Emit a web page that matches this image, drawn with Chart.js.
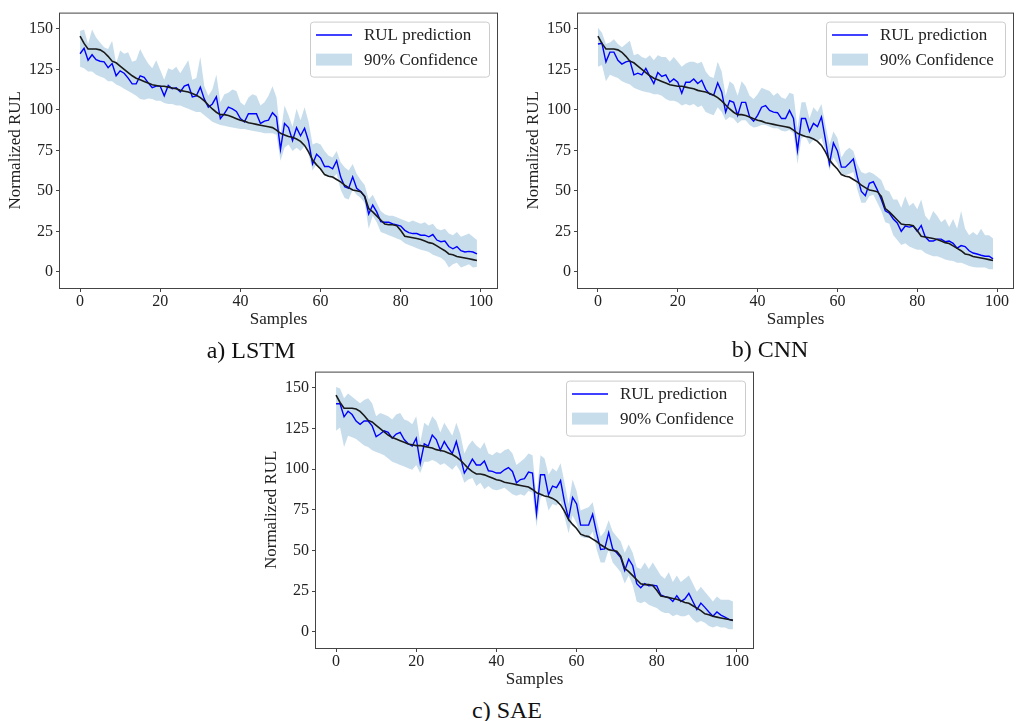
<!DOCTYPE html>
<html lang="en">
  <head>
    <meta charset="UTF-8" />
    <title>RUL prediction with 90% confidence</title>
    <script src="https://cdn.jsdelivr.net/npm/chart.js@4.4.1/dist/chart.umd.min.js"></script>
    <style>
      body {
        margin: 0;
        background: #fff;
        width: 1020px;
        height: 721px;
        position: relative;
        overflow: hidden;
        font-family: "Liberation Serif", "Times New Roman", serif;
      }
      canvas {
        position: absolute;
      }
      .caption {
        position: absolute;
        width: 200px;
        text-align: center;
        font-size: 24px;
        line-height: 24px;
        color: #111;
      }
    </style>
  </head>
  <body>
    <canvas id="lstm" width="510" height="330" style="left:0px;top:0px"></canvas>
    <canvas id="cnn" width="502" height="330" style="left:518px;top:0px"></canvas>
    <canvas id="sae" width="507" height="331" style="left:256px;top:359px"></canvas>

    <div class="caption" style="left:151px;top:338px">a) LSTM</div>
    <div class="caption" style="left:670px;top:337px">b) CNN</div>
    <div class="caption" style="left:407px;top:698px">c) SAE</div>

    <script>
      // sample index on the x axis
      const samples = Array.from({ length: 100 }, (_, i) => i);
      const xTicks = [0, 20, 40, 60, 80, 100];
      const yTicks = [0, 25, 50, 75, 100, 125, 150];

      const predLabel = "RUL prediction";
      const bandLabel = "90% Confidence";

      // true RUL (black line, same in all three plots)
      const trueRUL = [
        145.5, 141, 137.5, 137.5, 137.5, 137, 135.5, 133, 130, 129,
        127, 125, 123, 121, 119.5, 118.5, 117.5, 116.5, 115.5, 115,
        114.5, 114.5, 114, 113.5, 113, 112, 111.5, 111, 110, 109,
        107.5, 105.5, 103, 100.5, 98.5, 97, 97, 96.5, 95.5, 94.5,
        93.5, 93, 92, 91.5, 91, 90.5, 90, 89.5, 89, 87.5,
        85.5, 84.5, 83.5, 83, 82, 80.5, 78, 74, 69, 66,
        63.5, 60, 59, 58.5, 57, 55.5, 53.5, 52, 50.5, 50,
        49.5, 46.5, 39, 37, 34.5, 32, 29.5, 29, 29, 28.5,
        25.5, 22, 21.5, 21, 20.5, 20, 19, 18, 17.5, 16,
        14.5, 13, 11, 10.5, 9.5, 9, 8.5, 8, 7.5, 7
      ];

      // ---------------- a) LSTM ----------------
      const lstmPred = [
        134.6, 138, 130.6, 134, 131, 130, 129.6, 126, 128.6, 121,
        124, 122.6, 119.6, 116, 116, 121, 120, 116.6, 113.6, 114.6,
        114.6, 108.6, 115, 113, 113.6, 111, 114.6, 115.6, 108, 108.6,
        114, 106.6, 101.6, 103.6, 108, 94.6, 97.6, 101.6, 100.6, 99,
        94.6, 92.6, 97.6, 97.6, 97.6, 91.6, 93, 93.6, 98.2, 95.6,
        75.6, 91.6, 89, 81, 89, 84, 88.6, 80.6, 66.6, 72.6,
        70.2, 65, 65, 63.6, 68.6, 58.6, 52.6, 51.6, 58.6, 51.6,
        49.6, 46.6, 35.6, 41.2, 37, 31, 30.6, 30.6, 29.6, 29,
        28.2, 25.6, 24.2, 23.6, 23.6, 22.6, 22.6, 21.6, 23, 19.6,
        18.6, 19, 15.6, 14.2, 15.6, 13, 12.2, 12.6, 12.2, 11
      ];
      const lstmUpper = [
        148.6, 149.6, 140.6, 149.6, 144.6, 141.6, 138.6, 137.6, 142.6, 128.6,
        136.6, 134.6, 135.6, 129.6, 130.6, 137.6, 132.6, 128.6, 125.6, 130.6,
        124.6, 118.6, 125.6, 124.6, 126.6, 122.6, 126.6, 130.6, 118.6, 119.6,
        132.6, 114.6, 108.6, 112.6, 121.6, 104.6, 109.6, 110.6, 112.6, 111.6,
        104.6, 102.6, 107.6, 109.6, 108.6, 102.6, 104.6, 108.6, 114.6, 107.6,
        84.6, 102.6, 96.6, 89.6, 100.6, 93.6, 101.6, 92.6, 78.6, 79.6,
        78.6, 74.6, 71.6, 70.6, 74.6, 67.6, 64.6, 62.6, 66.6, 60.6,
        56.6, 53.6, 44.6, 47.6, 42.6, 37.6, 35.6, 34.6, 34.6, 33.6,
        32.6, 31.6, 30.6, 31.6, 30.6, 29.6, 30.6, 28.6, 29.6, 26.6,
        25.6, 26.6, 23.6, 22.6, 24.6, 21.6, 22.6, 23.6, 21.6, 19.6
      ];
      const lstmLower = [
        126.6, 125.6, 123.6, 123.6, 121.6, 120.6, 119.6, 117.6, 117.6, 115.6,
        114.6, 113, 111.6, 110.2, 108.6, 106.6, 106.2, 107, 106.6, 105.6,
        105.6, 104.2, 103.6, 103.6, 102.6, 102.6, 101.6, 100.6, 99.6, 98.6,
        98.6, 96.6, 94.6, 92.6, 91.6, 90.6, 90.2, 89.6, 89, 88.6,
        88.2, 88.2, 87.6, 87, 86.6, 86.2, 85.6, 85.6, 85.6, 84.6,
        68.6, 76.6, 78.6, 74.6, 76.6, 74.6, 77.6, 72.6, 62.6, 66.6,
        62.6, 59.6, 58.6, 57.6, 60.6, 50.6, 45.6, 44.6, 50.6, 47.6,
        45.6, 42.6, 26.6, 34.6, 30.6, 24.6, 23.6, 22.6, 21.6, 20.6,
        19.6, 17.6, 16.6, 15.6, 14.6, 13.6, 13, 12.2, 10.6, 9.6,
        8.6, 6.6, 2.6, 4.6, 5.6, 2.6, 3.6, 4.6, 2.6, 3
      ];

      // ---------------- b) CNN ----------------
      const cnnPred = [
        140.6, 141, 129.6, 135.6, 135.6, 130.6, 128.2, 129.6, 130.2, 121.6,
        122.6, 121.6, 125.6, 120.6, 116.2, 123, 120.6, 121.6, 117, 119,
        117, 110.2, 117, 117, 119, 116.2, 118.2, 112.6, 109.6, 109,
        116.6, 111, 98.6, 105.6, 104.6, 96.6, 104.6, 104.6, 95.6, 93,
        96.6, 101.6, 102.6, 99.6, 98.6, 98.2, 94.6, 94.6, 99.6, 94.6,
        75, 94.6, 94.6, 86.6, 91.6, 89.6, 95.6, 81.6, 66.6, 79.6,
        74.6, 64.6, 64.6, 67, 69.6, 58.6, 49.6, 47, 54.6, 55.6,
        50.6, 44.6, 37.6, 36.2, 32.6, 30.2, 25, 28.2, 27.6, 28.2,
        25, 28.6, 21.6, 19, 19, 20.2, 20.2, 18.6, 19, 17.6,
        14.6, 16.2, 15.6, 13, 11.6, 11, 10.2, 9.6, 9.6, 8
      ];
      const cnnUpper = [
        150.6, 147.6, 140.6, 141.6, 143.6, 140.6, 138.6, 140.6, 142.6, 133.6,
        134.6, 132.6, 131.6, 133.6, 130.6, 133.6, 132.6, 132.6, 129.6, 132.6,
        129.6, 126.6, 128.6, 129.6, 129.6, 128.6, 129.6, 123.6, 120.6, 119.6,
        129.6, 123.6, 108.6, 117.6, 115.6, 108.6, 117.6, 114.6, 108.6, 106.6,
        109.6, 113.6, 112.6, 111.6, 108.6, 110.6, 107.6, 106.6, 110.6, 109.6,
        88.6, 104.6, 104.6, 94.6, 101.6, 98.6, 103.6, 90.6, 78.6, 86.6,
        82.6, 70.6, 74.6, 76.6, 74.6, 66.6, 61.6, 60.6, 61.6, 60.6,
        58.6, 56.6, 50.6, 49.6, 44.6, 44.6, 39.6, 46.6, 40.6, 42.6,
        38.6, 44.6, 34.6, 31.6, 37.6, 34.6, 30.6, 32.6, 27.6, 32.6,
        26.6, 37.6, 26.6, 22.6, 24.6, 22.6, 26.6, 22.6, 22.6, 20.6
      ];
      const cnnLower = [
        126.6, 127.6, 117.6, 121.6, 120.6, 119.6, 117.6, 116.6, 115.6, 113.6,
        112.6, 111.6, 111, 110.6, 109.6, 109.6, 108.6, 106.6, 105.6, 105.6,
        104.6, 102.6, 103.6, 102.6, 103.6, 101.6, 102.6, 98.6, 97.6, 96.6,
        101.6, 98.6, 93.6, 95.6, 94.6, 91.6, 93.6, 93.6, 90.6, 89,
        89.6, 90.6, 90.6, 89.6, 88.6, 88.6, 87, 86.6, 87.6, 85.6,
        66.6, 82.6, 83.6, 78.6, 81.6, 80.6, 82.6, 74.6, 62.6, 70.6,
        66.6, 60.6, 59.6, 60.6, 61.6, 50.6, 42.6, 42.6, 46.6, 47.6,
        42.6, 37.6, 30.6, 29.6, 22.6, 19.6, 16.6, 17.6, 15.6, 14.6,
        13.6, 13.6, 11.6, 10.6, 9.6, 9.6, 8.6, 7.6, 7, 6.6,
        5.6, 5.6, 4.6, 3.6, 3, 2.6, 2.6, 2.6, 1.6, 1.6
      ];

      // ---------------- c) SAE ----------------
      const saePred = [
        140.2, 140.2, 132.2, 135.6, 133.6, 129.6, 127.6, 129.6, 129.6, 126.6,
        120, 121.6, 123.6, 122.6, 119, 121.6, 122.6, 118.2, 115.6, 114.2,
        119, 103.6, 115.6, 114.2, 121, 118.2, 111.6, 117, 113, 109.6,
        117, 107.6, 97.6, 101.6, 106.2, 102.6, 102.6, 105, 99, 98.6,
        97.6, 97.6, 99.6, 101, 98.6, 91.6, 93.6, 94.2, 98.2, 97.6,
        72.6, 96.6, 96.6, 84.2, 89.6, 88.6, 93, 79.6, 69.6, 82.6,
        78.6, 65.6, 65.6, 65.6, 72.2, 60.6, 50.6, 51, 61, 51,
        48.6, 45.6, 37.6, 44.6, 40.6, 29.6, 27, 29.6, 28.2, 28.6,
        28.2, 22.6, 21.6, 21, 18.6, 22.2, 18.6, 20.2, 23.6, 18.6,
        13.6, 17.6, 15, 12.2, 9.6, 12.2, 10.2, 9, 7.6, 7
      ];
      const saeUpper = [
        150.6, 149.6, 143.6, 146.6, 144.6, 142.6, 140.6, 142.6, 143.6, 140.6,
        132.6, 134.6, 133.6, 132.6, 130.6, 133.6, 134.6, 130.6, 129.6, 127.6,
        132.6, 116.6, 128.6, 126.6, 132.6, 129.6, 122.6, 128.6, 124.6, 120.6,
        128.6, 121.6, 109.6, 114.6, 117.6, 114.6, 112.6, 116.6, 109.6, 108.6,
        110.6, 109.6, 111.6, 112.6, 109.6, 102.6, 104.6, 106.6, 109.6, 108.6,
        82.6, 108.6, 106.6, 96.6, 100.6, 98.6, 103.6, 91.6, 78.6, 93.6,
        86.6, 74.6, 75.6, 76.6, 79.6, 68.6, 58.6, 61.6, 68.6, 61.6,
        58.6, 55.6, 48.6, 53.6, 48.6, 39.6, 38.6, 42.6, 38.6, 42.6,
        38.6, 34.6, 32.6, 36.6, 30.6, 34.6, 30.6, 32.6, 34.6, 29.6,
        24.6, 27.6, 24.6, 21.6, 18.6, 21.6, 19.6, 19.6, 19.6, 18.6
      ];
      const saeLower = [
        123.6, 125.6, 113.6, 120.6, 119.6, 118.6, 116.6, 114.6, 113.6, 111.6,
        110.6, 109.6, 108.6, 106.6, 104.6, 103.6, 102.6, 101.6, 100.6, 99.6,
        102.6, 97.6, 104.6, 104.6, 105.6, 104.6, 102.6, 103.6, 101.6, 99.6,
        102.6, 98.6, 91.6, 93.6, 94.6, 89.6, 91.6, 87.6, 89.6, 87.6,
        87, 87.6, 88.6, 86.6, 84.6, 83.6, 84.6, 83.6, 86.6, 85.6,
        64.6, 82.6, 84.6, 74.6, 78.6, 77.6, 80.6, 70.6, 60.6, 71.6,
        66.6, 58.6, 57.6, 57.6, 61.6, 50.6, 42.6, 42.6, 50.6, 42.6,
        39.6, 36.6, 29.6, 34.6, 28.6, 18.6, 17.6, 18.6, 16.6, 15.6,
        14.6, 12.6, 11.6, 11.6, 9.6, 10.6, 9.6, 9.6, 10.6, 7.6,
        5.6, 6.6, 5.6, 3.6, 2.6, 3.6, 2.6, 2.6, 1.6, 1.6
      ];

      const BLUE = "#0000ff";
      const BLACK = "#1a1a1a";
      const BAND = "rgba(31, 119, 180, 0.25)";
      const TEXT = "#222";

      Chart.defaults.font.family = '"Liberation Serif", "Times New Roman", serif';
      Chart.defaults.color = TEXT;

      function pts(arr) {
        return arr.map((v, i) => ({ x: samples[i], y: v }));
      }

      // full box around the plot area
      const frame = {
        id: "frame",
        afterDatasetsDraw(chart) {
          const { ctx, chartArea: a } = chart;
          ctx.save();
          ctx.strokeStyle = "#444";
          ctx.lineWidth = 1;
          ctx.strokeRect(a.left - 0.5, a.top + 0.5, a.right - a.left + 1, a.bottom - a.top);
          ctx.restore();
        },
      };

      // legend box in the upper right corner of the plot area
      const legendBox = {
        id: "legendBox",
        afterDraw(chart) {
          const { ctx, chartArea: a } = chart;
          const w = 179, h = 55;
          const x = a.right - 8 - w;
          const y = a.top + 9;
          ctx.save();
          ctx.fillStyle = "rgba(255,255,255,0.85)";
          ctx.strokeStyle = "#cccccc";
          ctx.lineWidth = 1;
          ctx.beginPath();
          ctx.roundRect(x + 0.5, y + 0.5, w, h, 3);
          ctx.fill();
          ctx.stroke();

          ctx.strokeStyle = BLUE;
          ctx.lineWidth = 1.5;
          ctx.beginPath();
          ctx.moveTo(x + 6, y + 13.5);
          ctx.lineTo(x + 42, y + 13.5);
          ctx.stroke();

          ctx.fillStyle = BAND;
          ctx.fillRect(x + 6, y + 32, 36, 12);

          ctx.fillStyle = TEXT;
          ctx.font = '17px "Liberation Serif", "Times New Roman", serif';
          ctx.textBaseline = "middle";
          ctx.textAlign = "left";
          ctx.fillText(predLabel, x + 54, y + 13.5);
          ctx.fillText(bandLabel, x + 54, y + 38.5);
          ctx.restore();
        },
      };

      function makeChart(id, pred, upper, lower, pad) {
        return new Chart(document.getElementById(id), {
          type: "line",
          data: {
            datasets: [
              { label: "true", data: pts(trueRUL), borderColor: BLACK, borderWidth: 1.6 },
              { label: predLabel, data: pts(pred), borderColor: BLUE, borderWidth: 1.4 },
              { label: "upper", data: pts(upper), borderColor: "rgba(0,0,0,0)", borderWidth: 0, fill: false },
              { label: bandLabel, data: pts(lower), borderColor: "rgba(0,0,0,0)", borderWidth: 0, fill: "-1", backgroundColor: BAND },
            ],
          },
          options: {
            responsive: false,
            animation: false,
            events: [],
            layout: { padding: pad },
            elements: {
              point: { radius: 0 },
              line: { tension: 0 },
            },
            plugins: {
              legend: { display: false },
              tooltip: { enabled: false },
            },
            scales: {
              x: {
                type: "linear",
                min: -5,
                max: 104,
                afterBuildTicks: (s) => { s.ticks = xTicks.map((v) => ({ value: v })); },
                afterFit: (s) => { s.height = 42; },
                grid: { drawOnChartArea: false, tickLength: 4, color: "#444" },
                border: { display: false },
                ticks: { color: TEXT, font: { size: 16 }, padding: 0, maxRotation: 0 },
                title: { display: true, text: "Samples", color: TEXT, font: { size: 17 }, padding: { top: 0, bottom: 0 } },
              },
              y: {
                min: -10,
                max: 160,
                afterBuildTicks: (s) => { s.ticks = yTicks.map((v) => ({ value: v })); },
                afterFit: (s) => { s.width = 60; },
                grid: { drawOnChartArea: false, tickLength: 4, color: "#444" },
                border: { display: false },
                ticks: { color: TEXT, font: { size: 16 }, padding: 3 },
                title: { display: true, text: "Normalized RUL", color: TEXT, font: { size: 17 }, padding: { top: 5, bottom: 0 } },
              },
            },
          },
          plugins: [frame, legendBox],
        });
      }

      makeChart("lstm", lstmPred, lstmUpper, lstmLower, { left: 0, top: 4, right: 13, bottom: 0 });
      makeChart("cnn", cnnPred, cnnUpper, cnnLower, { left: 0, top: 4, right: 7, bottom: 0 });
      makeChart("sae", saePred, saeUpper, saeLower, { left: 0, top: 4, right: 10, bottom: 0 });
    </script>
  </body>
</html>
